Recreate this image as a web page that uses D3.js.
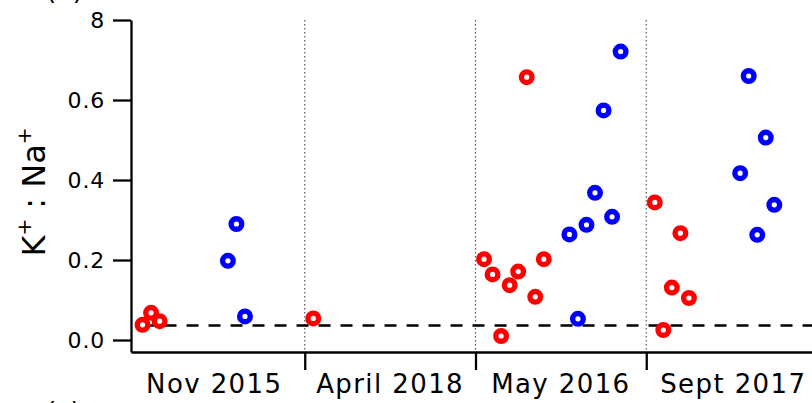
<!DOCTYPE html>
<html>
<head>
<meta charset="utf-8">
<script src="https://cdn.jsdelivr.net/npm/d3@7/dist/d3.min.js"></script>
<style>
  body { margin: 0; background: #fff; }
  svg { display: block; font-family: "DejaVu Sans", sans-serif; }
</style>
</head>
<body>
<div id="chart"></div>
<script>
// sample index along x, K+:Na+ ratio on y
const groups = ["Nov 2015", "April 2018", "May 2016", "Sept 2017"];
const groupCenters = [9.4, 30, 50, 70.2];
const dividers = [20, 40, 60];

const redIdx = [1, 2, 3, 21, 41, 42, 43, 44, 45, 46, 47, 48, 61, 62, 63, 64, 65];
const redVal = [0.038, 0.068, 0.047, 0.054, 0.202, 0.164, 0.010, 0.137, 0.171, 0.657, 0.108, 0.202,
                0.344, 0.025, 0.131, 0.267, 0.105];

const blueIdx = [11, 12, 13, 51, 52, 53, 54, 55, 56, 57, 71, 72, 73, 74, 75];
const blueVal = [0.198, 0.290, 0.059, 0.264, 0.053, 0.288, 0.368, 0.574, 0.308, 0.721,
                 0.417, 0.660, 0.263, 0.506, 0.338];

const yTicks = [0, 0.2, 0.4, 0.6, 0.8];
const yTickLabels = ["0.0", "0.2", "0.4", "0.6", "8"];
const baseline = 0.036;

const width = 812, height = 403;

const svg = d3.select("#chart").append("svg")
  .attr("width", width)
  .attr("height", height);

const x = d3.scaleLinear().domain([-0.35, 80]).range([131, 817]);
const y = d3.scaleLinear().domain([-0.03, 0.8]).range([352, 20]);

// dotted group dividers
svg.selectAll(".divider")
  .data(dividers)
  .join("line")
  .attr("class", "divider")
  .attr("x1", d => x(d)).attr("x2", d => x(d))
  .attr("y1", y(0.8)).attr("y2", y.range()[0])
  .attr("stroke", "#555")
  .attr("stroke-width", 1.2)
  .attr("stroke-dasharray", "1.5,2.5");

// dashed reference line
svg.append("line")
  .attr("x1", x(1)).attr("x2", width)
  .attr("y1", y(baseline)).attr("y2", y(baseline))
  .attr("stroke", "#000")
  .attr("stroke-width", 2.5)
  .attr("stroke-dasharray", "12,10");

// y axis
const yAxis = svg.append("g")
  .attr("transform", `translate(${x.range()[0]},0)`)
  .call(d3.axisLeft(y)
    .tickValues(yTicks)
    .tickFormat((d, i) => yTickLabels[i])
    .tickSize(18)
    .tickSizeOuter(0)
    .tickPadding(8));
yAxis.select(".domain").attr("stroke-width", 2.3);
yAxis.selectAll(".tick line").attr("stroke-width", 2.3);
yAxis.selectAll(".tick text")
  .attr("font-size", 22)
  .attr("letter-spacing", 0.8)
  .attr("font-family", "DejaVu Sans")
  .attr("fill", "#000");

// x axis
const xAxis = svg.append("g")
  .attr("transform", `translate(0,${y.range()[0]})`)
  .call(d3.axisBottom(x)
    .tickValues(dividers)
    .tickFormat("")
    .tickSize(18)
    .tickSizeOuter(0));
xAxis.select(".domain").attr("stroke-width", 2.3);
xAxis.selectAll(".tick line").attr("stroke-width", 2.3);

svg.selectAll(".grp")
  .data(groups)
  .join("text")
  .attr("class", "grp")
  .attr("x", (d, i) => x(groupCenters[i]))
  .attr("y", 393)
  .attr("text-anchor", "middle")
  .attr("font-size", 26)
  .attr("letter-spacing", 1.4)
  .text(d => d);

// y label  K+ : Na+
const ylab = svg.append("text")
  .attr("transform", "translate(45,192) rotate(-90)")
  .attr("text-anchor", "middle")
  .attr("font-size", 32);
ylab.append("tspan").text("K");
ylab.append("tspan").attr("dy", -14).attr("font-size", 20).text("+");
ylab.append("tspan").attr("dy", 14).text(" : Na");
ylab.append("tspan").attr("dy", -14).attr("font-size", 20).text("+");

// panel labels, cut by the edges as in the source figure
svg.append("text").attr("x", 46).attr("y", -1).attr("font-size", 26).text("(b)");
svg.append("text").attr("x", 46).attr("y", 421).attr("font-size", 26).text("(c)");

// points
function ring(idx, vals, color) {
  svg.append("g").selectAll("circle")
    .data(idx.map((d, i) => ({ i: d, v: vals[i] })))
    .join("circle")
    .attr("cx", d => x(d.i))
    .attr("cy", d => y(d.v))
    .attr("r", 5.3)
    .attr("fill", "#fff")
    .attr("stroke", color)
    .attr("stroke-width", 5.4);
}
ring(redIdx, redVal, "#ff0000");
ring(blueIdx, blueVal, "#0000ff");
</script>
</body>
</html>
